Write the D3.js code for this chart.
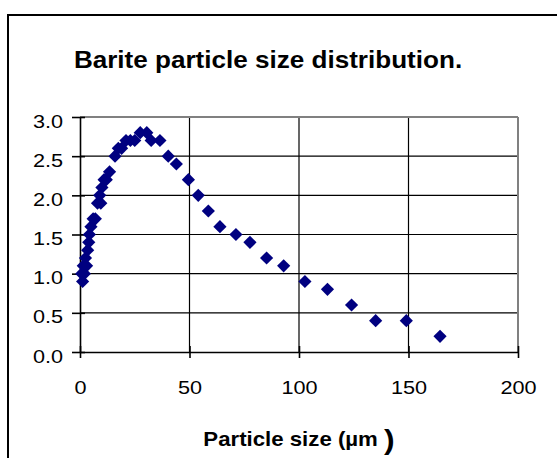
<!DOCTYPE html>
<html>
<head>
<meta charset="utf-8">
<script src="https://cdn.jsdelivr.net/npm/d3@7"></script>
<style>
  html, body { margin: 0; padding: 0; background: #fff; }
  svg { display: block; }
  text { font-family: "Liberation Sans", Arial, sans-serif; }
</style>
</head>
<body>
<svg id="chart" width="557" height="458"></svg>
<script>
// ---- data ----
const particleSize = [0.8, 1.2, 1.5, 2, 2.5, 3, 3.5, 4, 4.3, 5, 6, 7, 8, 9, 9.5, 10, 11, 12, 13.5, 16, 17.5, 19, 21, 23, 25, 27.5, 30.5, 32.5, 36.5, 40.3, 44, 49.5, 54, 58.6, 63.9, 71.2, 77.6, 85.2, 93, 102.7, 113, 124, 135, 149, 164.4];
const frequency    = [1.0, 0.9, 1.1, 1.0, 1.2, 1.1, 1.3, 1.4, 1.5, 1.6, 1.7, 1.7, 1.9, 2.0, 1.9, 2.1, 2.2, 2.2, 2.3, 2.5, 2.6, 2.6, 2.7, 2.7, 2.7, 2.8, 2.8, 2.7, 2.7, 2.5, 2.4, 2.2, 2.0, 1.8, 1.6, 1.5, 1.4, 1.2, 1.1, 0.9, 0.8, 0.6, 0.4, 0.4, 0.2];
const xTicks = [0, 50, 100, 150, 200];
const yTicks = [0.0, 0.5, 1.0, 1.5, 2.0, 2.5, 3.0];
const titleText = "Barite particle size distribution.";
const xLabelText = "Particle size (\u00b5m ";
const xLabelParen = ")";

// ---- layout ----
const svg = d3.select("#chart");
const plot = { left: 80, right: 518, top: 117, bottom: 352 };
const HS = 1.14; // horizontal stretch of text seen in reference

const x = d3.scaleLinear().domain([0, 200]).range([plot.left, plot.right]);
const y = d3.scaleLinear().domain([0, 3]).range([plot.bottom, plot.top]);

// outer frame
svg.append("rect").attr("x", 8).attr("y", 15).attr("width", 620).attr("height", 520)
  .attr("fill", "#fff").attr("stroke", "#000").attr("stroke-width", 2);

// title
svg.append("text")
  .attr("transform", `translate(268,68) scale(1.11,1)`)
  .attr("text-anchor", "middle")
  .attr("font-size", 23.5).attr("font-weight", "bold")
  .text(titleText);

// gridlines
const grid = svg.append("g");
grid.selectAll("line.h").data(yTicks.filter(v => v > 0 && v < 3)).join("line")
  .attr("x1", plot.left).attr("x2", plot.right)
  .attr("y1", d => y(d)).attr("y2", d => y(d))
  .attr("stroke", "#000").attr("stroke-width", 1.2);
grid.selectAll("line.v").data(xTicks.filter(v => v > 0 && v < 200)).join("line")
  .attr("y1", plot.top).attr("y2", plot.bottom)
  .attr("x1", d => x(d)).attr("x2", d => x(d))
  .attr("stroke", "#000").attr("stroke-width", 1.2);

// plot border (top & right gray)
svg.append("line").attr("x1", plot.left).attr("x2", plot.right)
  .attr("y1", plot.top).attr("y2", plot.top).attr("stroke", "#808080").attr("stroke-width", 2);
svg.append("line").attr("x1", plot.right).attr("x2", plot.right)
  .attr("y1", plot.top).attr("y2", plot.bottom).attr("stroke", "#808080").attr("stroke-width", 2);

// axes
const xAxis = d3.axisBottom(x).tickValues(xTicks).tickSizeInner(6).tickSizeOuter(0).tickFormat(d3.format("d"));
const gx = svg.append("g").attr("transform", `translate(0,${plot.bottom})`).call(xAxis);
gx.select(".domain").attr("stroke", "#000").attr("stroke-width", 1.6);
gx.selectAll(".tick line").attr("stroke", "#000").attr("stroke-width", 1.6).attr("y1", -6).attr("y2", 6);
gx.selectAll(".tick text")
  .attr("font-size", 19).attr("font-family", "Liberation Sans, Arial, sans-serif")
  .attr("fill", "#000").attr("y", 0).attr("dy", 0)
  .attr("transform", `translate(0,42) scale(${HS},1)`);

const yAxis = d3.axisLeft(y).tickValues(yTicks).tickSizeInner(8).tickSizeOuter(0).tickFormat(d3.format(".1f"));
const gy = svg.append("g").attr("transform", `translate(${plot.left},0)`).call(yAxis);
gy.select(".domain").attr("stroke", "#000").attr("stroke-width", 1.6);
gy.selectAll(".tick line").attr("stroke", "#000").attr("stroke-width", 1.6).attr("x1", -8).attr("x2", 5);
gy.selectAll(".tick text")
  .attr("font-size", 19).attr("font-family", "Liberation Sans, Arial, sans-serif")
  .attr("fill", "#000").attr("x", 0).attr("dy", 0)
  .attr("text-anchor", "end")
  .attr("transform", `translate(-17,10) scale(${HS},1)`);

// x axis label
const xl = svg.append("text")
  .attr("transform", `translate(299,446) scale(${HS},1)`)
  .attr("text-anchor", "middle")
  .attr("font-size", 19.5).attr("font-weight", "bold");
xl.append("tspan").text(xLabelText);
xl.append("tspan").attr("font-size", 28).attr("dy", 3).text(xLabelParen);

// points
const pts = particleSize.map((v, i) => [v, frequency[i]]);
const r = 6.6;
svg.append("g").selectAll("path").data(pts).join("path")
  .attr("transform", d => `translate(${x(d[0])},${y(d[1])})`)
  .attr("d", `M0,${-r}L${r},0L0,${r}L${-r},0Z`)
  .attr("fill", "#000080");
</script>
</body>
</html>
